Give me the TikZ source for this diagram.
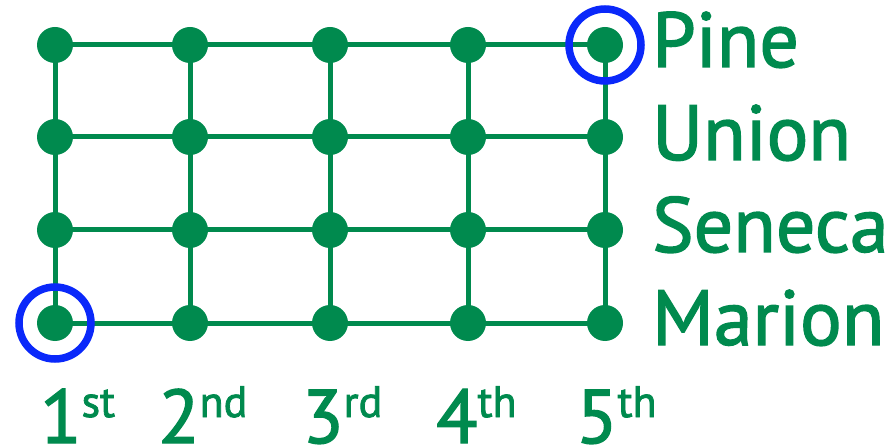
\documentclass[tikz,border=0pt]{standalone}
\usepackage{fontspec}
\setmainfont[FakeBold=1.8,BoldFont={PT Sans}]{PT Sans}
\usetikzlibrary{backgrounds}
\definecolor{grn}{RGB}{0,138,78}
\definecolor{blu}{RGB}{10,40,250}
\tikzset{
  dot/.style={circle,fill=grn,minimum size=36pt,inner sep=0pt},
  street/.style={draw=grn,line width=5pt},
  ring/.style={circle,draw=blu,line width=7.5pt,minimum size=72pt,inner sep=0pt},
  stname/.style={anchor=base west,text=grn,inner sep=0pt,font=\fontsize{78}{80}\selectfont\bfseries},
  ave/.style={anchor=base west,text=grn,inner sep=0pt,font=\fontsize{76}{78}\selectfont\bfseries},
}
\newcommand{\supx}[1]{{\fontsize{44}{44}\selectfont\raisebox{26pt}{#1}}}
\begin{document}
\begin{tikzpicture}[x=1pt,y=-1pt]
\useasboundingbox (0,0) rectangle (891,446);
\foreach \i/\x in {1/55,2/190,3/330,4/468,5/605}{
  \foreach \j/\y in {1/45,2/137,3/230,4/323}{
    \node[dot] (n-\i-\j) at (\x,\y) {};
  }
}
\begin{scope}[on background layer]
\foreach \j in {1,2,3,4}{
  \draw[street] (n-1-\j.center) -- (n-2-\j.center) -- (n-3-\j.center) -- (n-4-\j.center) -- (n-5-\j.center);
}
\foreach \i in {1,2,3,4,5}{
  \draw[street] (n-\i-1.center) -- (n-\i-2.center) -- (n-\i-3.center) -- (n-\i-4.center);
}
\end{scope}
\node[ring] (r1) at (n-1-4) {};
\node[ring] (r2) at (n-5-1) {};
\node[stname] (pine) at (652,67) {Pine};
\node[stname] (union) at (652,160) {Union};
\node[stname] (seneca) at (652,252) {Seneca};
\node[stname] (marion) at (652,345) {Marion};
\node[ave] (a1) at (40,443) {1\supx{st}};
\node[ave] (a2) at (158,443) {2\supx{nd}};
\node[ave] (a3) at (302,443) {3\supx{rd}};
\node[ave] (a4) at (436,443) {4\supx{th}};
\node[ave] (a5) at (576,443) {5\supx{th}};
\end{tikzpicture}
\end{document}
